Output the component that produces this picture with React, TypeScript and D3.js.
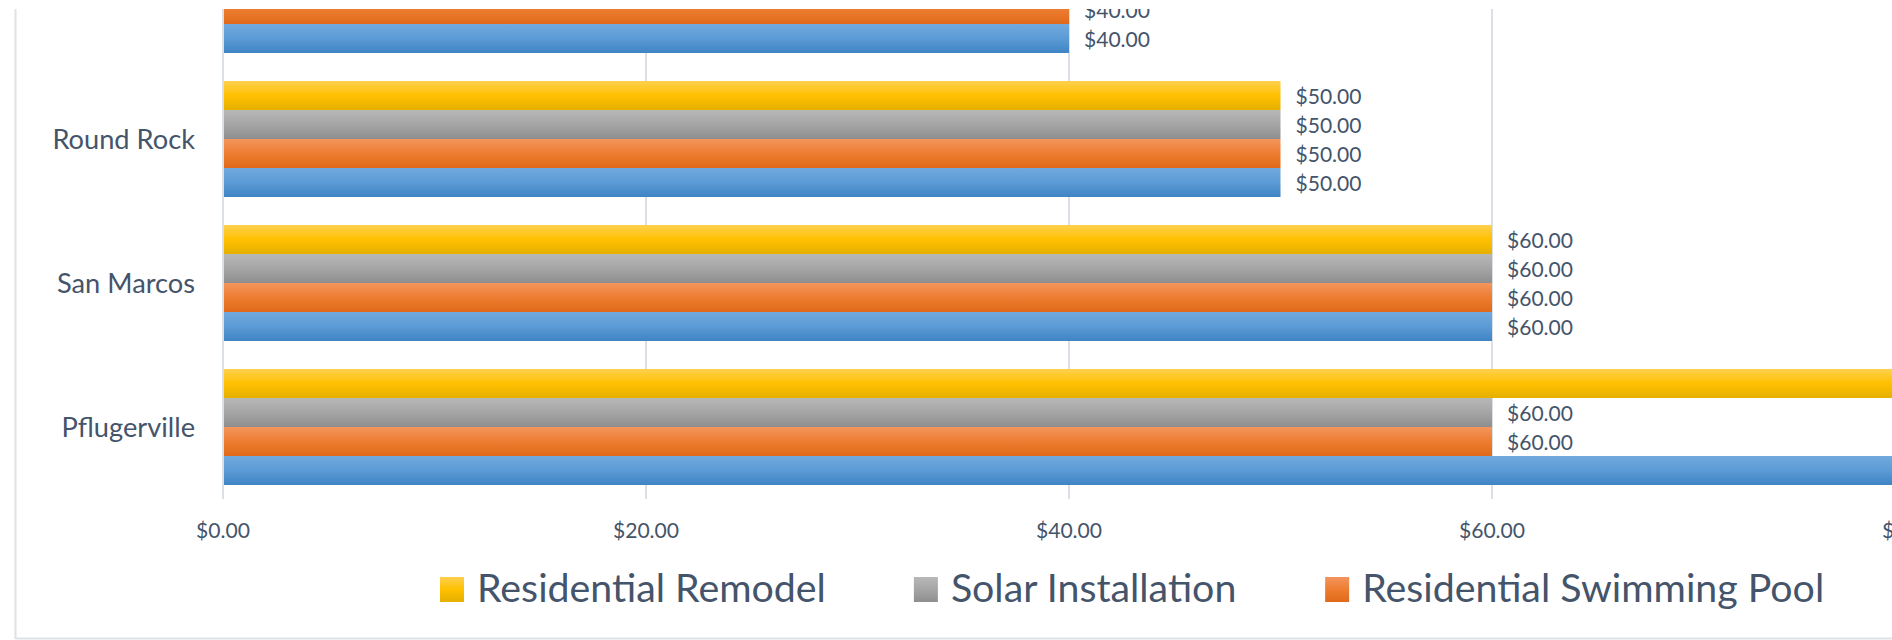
import React, { useMemo } from 'react';
import * as d3 from 'd3';

// ---------- data ----------
const categories = ['', 'Round Rock', 'San Marcos', 'Pflugerville'];
const seriesNames = ['Residential Remodel', 'Solar Installation', 'Residential Swimming Pool', ''];
const remodelValues = [40, 50, 60, 80];
const solarValues = [40, 50, 60, 60];
const poolValues = [40, 50, 60, 60];
const fourthValues = [40, 50, 60, 80];
const xTickValues = [0, 20, 40, 60, 80];

const seriesValues = [remodelValues, solarValues, poolValues, fourthValues];
const seriesGradients = [
  ['#ffd04f', '#ffc000', '#e5b000'],
  ['#b8b8b8', '#a5a5a5', '#8e8e8e'],
  ['#f4955e', '#ed7d31', '#e0691a'],
  ['#72aade', '#5b9bd5', '#3f84c5'],
];

const W = 1892;
const H = 640;
const FONT = 'Lato, "Open Sans", sans-serif';
const TEXT = '#44546a';
const GRID = '#dbe0e6';

function measure(text: string, size: number): number {
  const ctx = document.createElement('canvas').getContext('2d');
  if (!ctx) return text.length * size * 0.5;
  ctx.font = `${size}px Lato`;
  return ctx.measureText(text).width;
}
function fit(text: string, target: number): number {
  return (100 * target) / measure(text, 100);
}

export default function App() {
  const fmt = d3.format('$.2f');

  const sizes = useMemo(() => {
    return {
      legend: fit('Residential Remodel', 349),
      cat: fit('San Marcos', 138),
      tick: fit('$0.00', 54),
      label: fit('$50.00', 66),
    };
  }, []);

  const x = d3.scaleLinear().domain([0, 80]).range([223, 1915]);
  const y = d3
    .scaleBand<string>()
    .domain(categories.map((c, i) => String(i)))
    .range([-77, 499])
    .paddingInner(28 / 144)
    .paddingOuter(14 / 144);
  const ySub = d3
    .scaleBand<string>()
    .domain(seriesNames.map((s, i) => String(i)))
    .range([0, y.bandwidth()]);

  const clipTop = 9;

  // legend layout
  const legendItems: { name: string; i: number; mx: number; tx: number }[] = [];
  let cx = 440;
  seriesNames.forEach((name, i) => {
    if (!name) return;
    const tx = cx + 37;
    legendItems.push({ name, i, mx: cx, tx });
    cx = tx + measure(name, sizes.legend) + 88;
  });

  return (
    <svg
      width={W}
      height={H}
      style={{ position: 'absolute', left: 0, top: 0, background: '#ffffff' }}
      fontFamily={FONT}
    >
      <defs>
        {seriesGradients.map((g, i) => (
          <linearGradient key={i} id={`grad${i}`} x1="0" y1="0" x2="0" y2="1">
            <stop offset="0%" stopColor={g[0]} />
            <stop offset="50%" stopColor={g[1]} />
            <stop offset="100%" stopColor={g[2]} />
          </linearGradient>
        ))}
        <clipPath id="chartClip">
          <rect x={0} y={clipTop} width={W} height={H - clipTop} />
        </clipPath>
      </defs>
      <rect x={0} y={0} width={W} height={H} fill="#ffffff" />
      <g clipPath="url(#chartClip)">
        {/* chart border */}
        <line x1={15.5} x2={15.5} y1={clipTop} y2={639} stroke="#dde2e8" strokeWidth={2} />
        <line x1={15.5} x2={W} y1={638.5} y2={638.5} stroke="#dde2e8" strokeWidth={2} />

        {/* gridlines */}
        {xTickValues.map((t) => (
          <line
            key={t}
            x1={x(t)}
            x2={x(t)}
            y1={clipTop}
            y2={499}
            stroke={GRID}
            strokeWidth={2}
          />
        ))}

        {/* bars */}
        {categories.map((c, ci) => (
          <g key={ci} transform={`translate(0,${y(String(ci))})`}>
            {seriesValues.map((vals, si) => {
              const by = ySub(String(si)) as number;
              const bh = ySub.bandwidth();
              return (
                <rect
                  key={si}
                  x={x(0) + 1}
                  y={by}
                  width={x(vals[ci]) - x(0) - 1}
                  height={bh}
                  fill={`url(#grad${si})`}
                />
              );
            })}
            {seriesValues.map((vals, si) => {
              const by = ySub(String(si)) as number;
              const bh = ySub.bandwidth();
              return (
                <text
                  key={'l' + si}
                  x={x(vals[ci]) + 15}
                  y={by + bh / 2 + sizes.label * 0.36 + 1}
                  fontSize={sizes.label}
                  fill={TEXT}
                >
                  {fmt(vals[ci])}
                </text>
              );
            })}
            <text
              x={195}
              y={y.bandwidth() / 2 + sizes.cat * 0.36}
              fontSize={sizes.cat}
              fill={TEXT}
              textAnchor="end"
            >
              {c}
            </text>
          </g>
        ))}

        {/* x tick labels */}
        {xTickValues.map((t) => (
          <text
            key={'t' + t}
            x={x(t)}
            y={538}
            fontSize={sizes.tick}
            fill={TEXT}
            textAnchor="middle"
          >
            {fmt(t)}
          </text>
        ))}

        {/* legend */}
        {legendItems.map((it) => (
          <g key={it.name}>
            <rect x={it.mx} y={577} width={24} height={25} fill={`url(#grad${it.i})`} />
            <text x={it.tx} y={602} fontSize={sizes.legend} fill={TEXT}>
              {it.name}
            </text>
          </g>
        ))}
      </g>
    </svg>
  );
}
